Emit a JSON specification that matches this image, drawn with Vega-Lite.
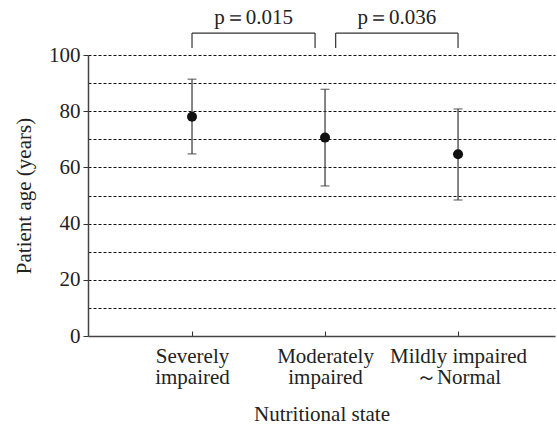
{
  "$schema": "https://vega.github.io/schema/vega-lite/v6.json",
  "width": 467,
  "height": 281,
  "autosize": "none",
  "padding": {"left": 88, "top": 55, "right": 2, "bottom": 89},
  "background": "white",
  "config": {
    "font": "Liberation Serif",
    "view": {"stroke": null},
    "axis": {"labelFont": "Liberation Serif", "titleFont": "Liberation Serif", "titleFontWeight": "normal", "labelColor": "#222", "titleColor": "#222"}
  },
  "datasets": {
    "stats": [
      {"pos": 1, "state": "Severely impaired", "mean": 78.0, "lo": 64.8, "hi": 91.4},
      {"pos": 2, "state": "Moderately impaired", "mean": 70.6, "lo": 53.4, "hi": 87.8},
      {"pos": 3, "state": "Mildly impaired ～Normal", "mean": 64.7, "lo": 48.4, "hi": 80.8}
    ],
    "comp": [
      {"x1": 1, "x2": 1.925, "label": "p＝0.015"},
      {"x1": 2.08, "x2": 3, "label": "p＝0.036"}
    ]
  },
  "resolve": {"axis": {"y": "independent"}},
  "layer": [
    {
      "data": {"name": "stats"},
      "mark": {"type": "rule", "color": "#333", "strokeWidth": 1.2},
      "encoding": {
        "x": {"field": "pos", "type": "quantitative",
          "scale": {"domain": [0.218, 3.729], "nice": false, "zero": false},
          "axis": {"values": [1, 2, 3], "title": "Nutritional state", "grid": false,
            "labelExpr": "datum.value == 1 ? ['Severely', 'impaired'] : datum.value == 2 ? ['Moderately', 'impaired'] : ['Mildly impaired', '～Normal']",
            "labelFontSize": 21, "labelLineHeight": 21, "labelPadding": 14, "tickSize": -5, "tickColor": "#333",
            "domainColor": "#444", "domainWidth": 1.5, "titleFontSize": 21, "titlePadding": 16, "labelFlush": false}},
        "y": {"field": "lo", "type": "quantitative",
          "scale": {"domain": [0, 100], "nice": false},
          "axis": {"orient": "left", "values": [10, 20, 30, 40, 50, 60, 70, 80, 90, 100], "title": null,
            "labels": false, "ticks": false, "domain": false,
            "grid": true, "gridDash": [3, 2], "gridColor": "#111", "gridWidth": 1}},
        "y2": {"field": "hi"}
      }
    },
    {
      "data": {"name": "stats"},
      "mark": {"type": "tick", "orient": "horizontal", "size": 9, "color": "#333", "thickness": 1.2},
      "encoding": {"x": {"field": "pos", "type": "quantitative"},
        "y": {"field": "lo", "type": "quantitative",
          "axis": {"orient": "left", "values": [0, 20, 40, 60, 80, 100], "title": "Patient age (years)", "grid": false,
            "tickSize": 5, "tickColor": "#333", "labelPadding": 3,
            "domainColor": "#444", "domainWidth": 1.5, "labelFontSize": 21, "titleFontSize": 21, "titlePadding": 14}}}
    },
    {
      "data": {"name": "stats"},
      "mark": {"type": "tick", "orient": "horizontal", "size": 9, "color": "#333", "thickness": 1.2},
      "encoding": {"x": {"field": "pos", "type": "quantitative"}, "y": {"field": "hi", "type": "quantitative", "axis": null}}
    },
    {
      "data": {"name": "stats"},
      "mark": {"type": "point", "filled": true, "size": 100, "color": "#111", "opacity": 1},
      "encoding": {"x": {"field": "pos", "type": "quantitative"}, "y": {"field": "mean", "type": "quantitative", "axis": null}}
    },
    {
      "data": {"name": "comp"},
      "mark": {"type": "rule", "color": "#333", "strokeWidth": 1.2, "clip": false},
      "encoding": {"x": {"field": "x1", "type": "quantitative"}, "x2": {"field": "x2"}, "y": {"datum": 107.8, "axis": null}}
    },
    {
      "data": {"name": "comp"},
      "mark": {"type": "rule", "color": "#333", "strokeWidth": 1.2, "clip": false},
      "encoding": {"x": {"field": "x1", "type": "quantitative"}, "y": {"datum": 102.5, "axis": null}, "y2": {"datum": 107.8}}
    },
    {
      "data": {"name": "comp"},
      "mark": {"type": "rule", "color": "#333", "strokeWidth": 1.2, "clip": false},
      "encoding": {"x": {"field": "x2", "type": "quantitative"}, "y": {"datum": 102.5, "axis": null}, "y2": {"datum": 107.8}}
    },
    {
      "data": {"name": "comp"},
      "transform": [{"calculate": "(datum.x1 + datum.x2) / 2", "as": "mid"}],
      "mark": {"type": "text", "fontSize": 21, "baseline": "alphabetic", "align": "center", "color": "#222", "clip": false},
      "encoding": {"x": {"field": "mid", "type": "quantitative"}, "y": {"datum": 110.9, "axis": null}, "text": {"field": "label"}}
    }
  ]
}
